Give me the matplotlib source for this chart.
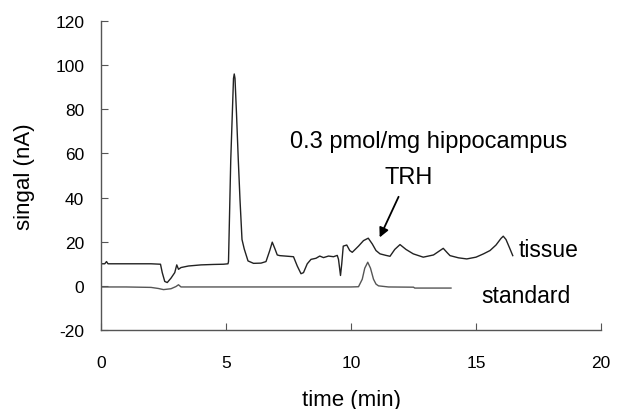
import matplotlib
matplotlib.use("Agg")
import matplotlib.pyplot as plt

plt.rcParams['font.family'] = ['Liberation Sans', 'DejaVu Sans']
plt.rcParams['axes.unicode_minus'] = False

tissue_t = [0.0, 0.15, 0.22, 0.28, 1.0, 2.0, 2.38, 2.45, 2.55, 2.65, 2.8, 2.95, 3.03, 3.1, 3.2, 3.5,
            4.0, 4.5, 4.9, 5.08, 5.1, 5.19, 5.3, 5.33, 5.36, 5.42, 5.49, 5.56, 5.64, 5.73, 5.88,
            6.1, 6.4, 6.6, 6.75, 6.85, 6.95, 7.05, 7.15, 7.7, 7.85, 8.0, 8.1, 8.25, 8.4, 8.6, 8.75,
            8.9, 9.1, 9.3, 9.45, 9.5, 9.58, 9.63, 9.69, 9.83, 9.95, 10.05, 10.3, 10.5, 10.69, 10.85,
            11.0, 11.16, 11.4, 11.56, 11.75, 11.96, 12.2, 12.49, 12.89, 13.3, 13.69, 13.85, 13.96,
            14.3, 14.63, 15.0, 15.3, 15.56, 15.8, 16.0, 16.09, 16.2, 16.35, 16.47]
tissue_v = [10, 10, 11, 10, 10, 10, 9.8, 6, 2, 1.5, 3.5, 6, 9.5, 7.5, 8.3, 9,
            9.5, 9.7, 9.8, 10, 11, 57, 94, 96, 94, 78, 57.5, 39, 21, 16.7, 11.3,
            10.2, 10.3, 11, 16, 19.8, 17, 14, 13.7, 13.2, 9, 5.5, 6, 10, 12, 12.5, 13.5,
            12.8, 13.5, 13.2, 13.8, 12, 4.7, 10, 18, 18.5, 16, 15.2, 18, 20.5, 21.6, 19,
            16, 14.5, 13.8, 13.4, 16.5, 18.7, 16.5, 14.5, 13, 14, 17, 15, 13.7,
            12.7, 12.2, 13, 14.5, 16, 18.5, 21.5, 22.5, 21, 17, 13.7]

standard_t = [0.0, 1.0, 2.0, 2.3, 2.5, 2.8, 3.0, 3.1, 3.2, 4.0, 5.0, 6.0, 8.0, 10.0, 10.3,
              10.45, 10.55, 10.67, 10.78, 10.9, 11.0, 11.1, 11.5, 12.5, 12.55, 14.0]
standard_v = [-0.5, -0.5, -0.7, -1.2, -1.7, -1.3, -0.3, 0.5, -0.5, -0.5, -0.5, -0.5, -0.5, -0.5, -0.4,
              3, 8, 10.7, 8, 3, 0.8, 0, -0.5, -0.6, -1, -1]

x_ticks = [0, 5, 10, 15, 20]
y_ticks = [-20, 0, 20, 40, 60, 80, 100, 120]

fig = plt.figure(figsize=(6.24, 4.10), dpi=100)
ax = fig.add_axes([101/624, 1-331/410, 500/624, 309/410])

ax.plot(tissue_t, tissue_v, color='#222222', lw=1.0)
ax.plot(standard_t, standard_v, color='#555555', lw=1.0)

ax.set_xlim(0, 20)
ax.set_ylim(-20, 120)
ax.set_xticks(x_ticks)
ax.set_yticks(y_ticks)
for s in ['top', 'right']:
    ax.spines[s].set_visible(False)
for s in ['left', 'bottom']:
    ax.spines[s].set_color('#555555')
    ax.spines[s].set_linewidth(1.0)
ax.tick_params(axis='both', direction='in', length=5, color='#555555', labelsize=12.5)
ax.tick_params(axis='x', pad=18)
ax.tick_params(axis='y', pad=12)

ax.set_xlabel('time (min)', fontsize=16, labelpad=14)
ax.set_ylabel('singal (nA)', fontsize=16, labelpad=15)

ax.text(13.1, 65.5, '0.3 pmol/mg hippocampus', fontsize=17, ha='center', va='center')
ax.text(12.3, 49.5, 'TRH', fontsize=17, ha='center', va='center')
ax.annotate('', xy=(11.1, 20.8), xytext=(11.95, 41.5),
            arrowprops=dict(arrowstyle='-|>', color='black', lw=1.3, mutation_scale=14))
ax.text(16.7, 16.3, 'tissue', fontsize=16.5, ha='left', va='center')
ax.text(15.2, -4.5, 'standard', fontsize=16.5, ha='left', va='center')

fig.savefig('out.png', dpi=100)
